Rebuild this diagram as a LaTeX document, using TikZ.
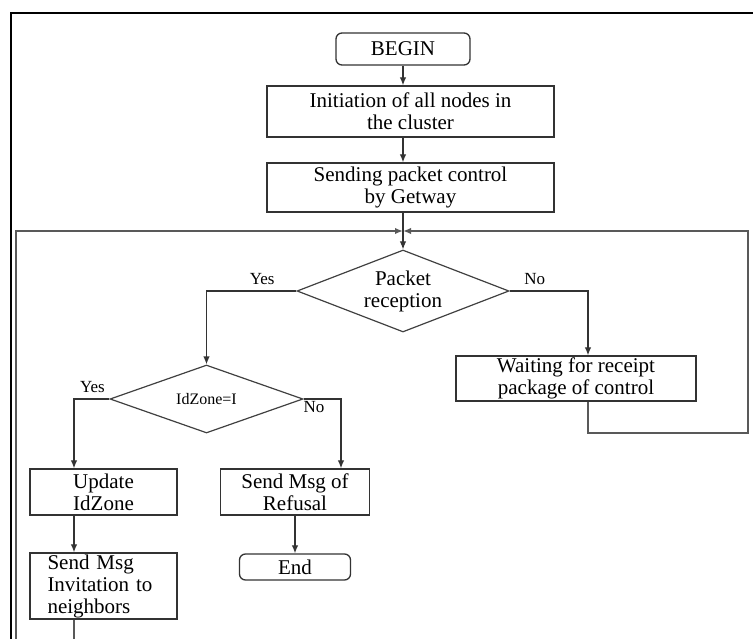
\documentclass[tikz,border=0pt]{standalone}
\usepackage{fontspec}
\setmainfont{Liberation Serif}
\usetikzlibrary{arrows.meta}
\usetikzlibrary{shapes.geometric}

\begin{document}
\begin{tikzpicture}[x=1pt, y=-1pt,
  box/.style={draw=black!80, line width=1.3pt, inner sep=0pt, align=center, font=\fontsize{21}{22}\selectfont},
  startstop/.style={box, rounded corners=6pt},
  decision/.style={box, draw=black!75, line width=1.2pt, diamond},
  flow/.style={draw=black!80, line width=1.2pt, -{Latex[length=8pt, width=6.5pt]}},
  loopline/.style={draw=black!65, line width=1.6pt, -{Latex[length=8pt, width=6.5pt]}},
  answer/.style={font=\fontsize{17}{18}\selectfont, inner sep=2pt}]

\useasboundingbox (0,0) rectangle (753,639);
\clip (0,0) rectangle (753,639);

%% Outer frame %%
\draw[line width=1.4pt] (11,13) rectangle (790,700);

%% Nodes %%
% main column %
\node[startstop, minimum width=134pt, minimum height=32pt] (begin) at (403,49) {BEGIN};
\node[box, minimum width=287pt, minimum height=51pt] (init) at (410.5,111.5) {Initiation of all nodes in\\the cluster};
\node[box, minimum width=287pt, minimum height=49pt] (send) at (410.5,187.5) {Sending packet control\\by Getway};
\node[decision, aspect=2.6, minimum width=212pt, minimum height=82pt] (packet) at (403,291) {Packet\\reception};

% right branch %
\node[box, minimum width=240pt, minimum height=45pt] (wait) at (576,378.5) {Waiting for receipt\\package of control};

% left branch %
\node[decision, aspect=2.8, minimum width=193pt, minimum height=68pt, font=\fontsize{16}{17}\selectfont] (idzone) at (206.5,399) {IdZone=I};
\node[box, minimum width=147pt, minimum height=46pt] (update) at (103.5,492) {Update\\IdZone};
\node[box, minimum width=149pt, minimum height=46pt] (refusal) at (295,492) {Send Msg of\\Refusal};
\node[box, minimum width=147pt, minimum height=66pt, text width=112pt, align=left] (invite) at (103.5,586) {Send Msg\\Invitation to\\neighbors};
\node[startstop, minimum width=111pt, minimum height=26pt] (end) at (295,567) {End};

% helper points %
\coordinate (merge) at (403,231);
\coordinate (ycol) at (74,0);
\coordinate (ncol) at (341,0);
\coordinate (wcol) at (588,0);
\coordinate (rloop) at (748,433);
\coordinate (lloop) at (16,700);

%% Connection arrows %%
% top to bottom %
\draw[flow] (begin.south) -- (init.north -| begin.south);
\draw[flow] (init.south -| begin.south) -- (send.north -| begin.south);
\draw[flow] (send.south -| begin.south) -- (packet.north);

% decisions %
\draw[flow] (packet.west) -| (idzone.north) node[pos=0.19, above, answer, yshift=4pt] {Yes};
\draw[flow] (packet.east) -| (wcol |- wait.north) node[pos=0.16, above, answer, yshift=4pt] {No};
\draw[flow] (idzone.west) -| (ycol |- update.north) node[pos=0.24, above, answer, yshift=4pt] {Yes};
\draw[flow] (idzone.east) -| (ncol |- refusal.north) node[pos=0.14, below, answer] {No};

\draw[flow] (ycol |- update.south) -- (ycol |- invite.north);
\draw[flow] (refusal.south) -- (end.north);

% loops back %
\draw[loopline] (wcol |- wait.south) |- (rloop) |- (merge);
\draw[loopline] (ycol |- invite.south) |- (lloop) |- (merge);

\end{tikzpicture}
\end{document}
